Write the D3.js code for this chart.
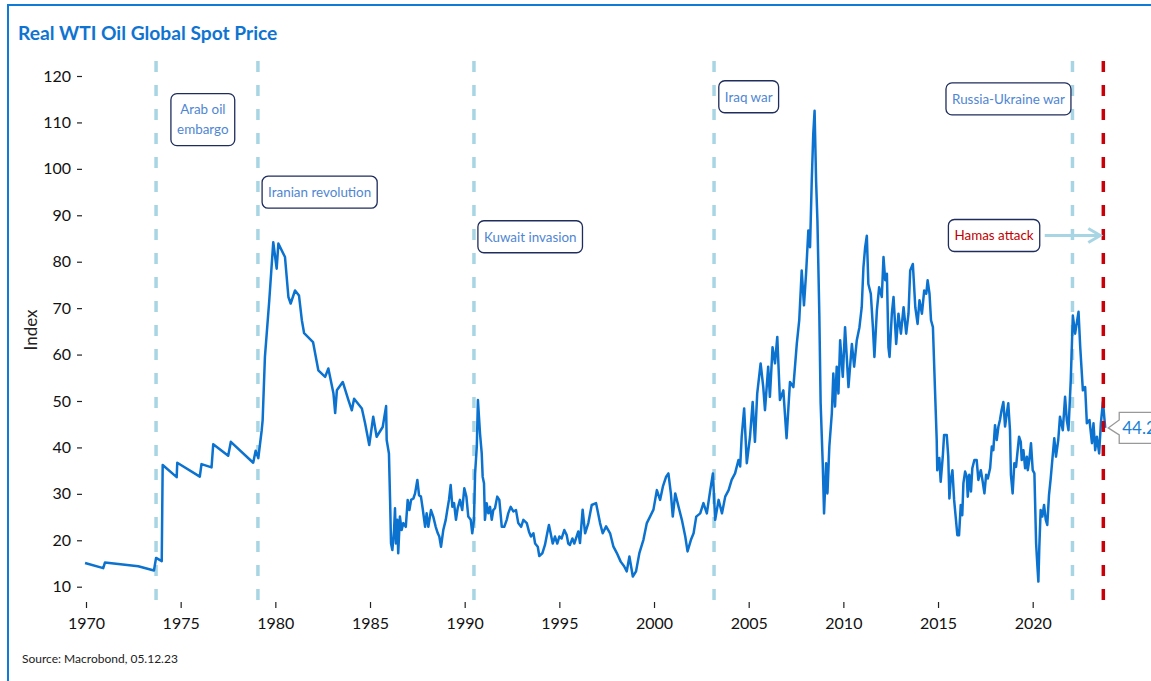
<!DOCTYPE html>
<html><head><meta charset="utf-8">
<script src="https://cdn.jsdelivr.net/npm/d3@7"></script>
<style>
body{margin:0;background:#fff;}
svg{display:block;font-family:Lato,"Open Sans",sans-serif;}
</style></head><body>
<svg id="c" width="1151" height="681"></svg>
<script>
// ---- data ----
const series = [
[1969.95,15.1],[1970.91,14.0],[1971.00,15.2],[1972.76,14.4],[1973.59,13.5],[1973.70,16.2],[1974.00,15.5],[1974.05,36.2],
[1974.79,33.6],[1974.82,36.7],[1976.01,33.7],[1976.10,36.4],[1976.63,35.7],[1976.72,40.7],[1977.51,38.2],[1977.65,41.2],
[1978.83,36.7],[1978.96,39.3],[1979.10,37.7],[1979.28,43.7],[1979.33,45.9],[1979.45,59.5],[1979.68,71.7],[1979.89,84.2],
[1980.07,78.5],[1980.16,83.9],[1980.51,81],[1980.69,72.4],[1980.81,71],[1981.04,73.8],[1981.25,72.7],[1981.40,67.4],
[1981.52,64.6],[1981.99,62.7],[1982.27,56.6],[1982.63,55.2],[1982.80,57],[1983.07,51.6],[1983.16,47.4],[1983.25,52.3],
[1983.56,54.1],[1983.86,50.2],[1984.04,48],[1984.16,50.5],[1984.57,48.4],[1984.74,45.2],[1984.96,40.5],[1985.17,46.6],
[1985.35,42.3],[1985.67,44.4],[1985.85,48.9],[1985.88,41.6],[1986.00,38.7],[1986.06,28.7],[1986.11,19.3],[1986.18,17.9],
[1986.27,22.2],[1986.32,26.9],[1986.37,19.3],[1986.44,24.4],[1986.49,17.2],[1986.58,25.1],[1986.67,22.2],[1986.76,23.7],
[1986.89,22.9],[1986.99,28.7],[1987.08,26.5],[1987.17,28.7],[1987.29,29],[1987.38,30.1],[1987.50,33],[1987.59,29.7],
[1987.69,29.4],[1987.78,26.9],[1987.91,22.9],[1987.99,25.8],[1988.08,22.9],[1988.22,26.5],[1988.34,25.1],[1988.47,22.9],
[1988.58,21.5],[1988.66,20.8],[1988.75,18.6],[1988.87,22.2],[1989.00,24.4],[1989.08,26.5],[1989.17,28.7],[1989.26,31.9],
[1989.35,27.2],[1989.44,28],[1989.54,24.4],[1989.63,26.9],[1989.75,28.7],[1989.87,26.5],[1989.98,31.2],[1990.09,29.4],
[1990.19,25.1],[1990.32,24.4],[1990.40,21.5],[1990.49,24.4],[1990.55,34.4],[1990.64,40.2],[1990.70,50.2],[1990.81,43],
[1990.90,38.7],[1990.95,33.7],[1991.02,32.3],[1991.07,24.4],[1991.16,28],[1991.25,25.8],[1991.34,27.2],[1991.43,24.4],
[1991.51,26.5],[1991.60,26.9],[1991.72,29.4],[1991.83,28.7],[1991.96,22.9],[1992.09,22.9],[1992.22,24.4],[1992.30,25.8],
[1992.43,27.2],[1992.57,26.2],[1992.71,26.5],[1992.83,23.7],[1992.98,22.9],[1993.10,24.4],[1993.28,23.7],[1993.40,21.8],
[1993.50,20.8],[1993.63,21.5],[1993.72,19.3],[1993.86,18.6],[1993.94,16.6],[1994.10,17.2],[1994.24,19],[1994.36,21.5],
[1994.45,23.3],[1994.54,21.5],[1994.65,19.3],[1994.77,20.8],[1994.89,19.3],[1995.00,20.8],[1995.12,20.4],[1995.26,22.2],
[1995.39,21.1],[1995.47,19.3],[1995.56,19],[1995.69,20.4],[1995.79,19.3],[1996.00,21.9],[1996.09,19.4],[1996.23,26.6],
[1996.36,21.5],[1996.53,23.7],[1996.71,27.6],
[1996.94,28],[1997.15,23.7],[1997.29,21.5],[1997.47,23],[1997.68,21.5],[1997.85,18.7],[1998.03,17.3],[1998.24,15.4],
[1998.42,14.4],[1998.56,13.3],[1998.70,16.5],[1998.88,12.2],[1999.05,13.3],[1999.23,17.3],[1999.44,20.1],[1999.62,23.7],
[1999.79,25.1],[1999.97,26.6],[2000.15,30.8],[2000.32,28.7],[2000.47,31.6],[2000.64,33.7],[2000.76,34.4],[2000.89,30.1],
[2000.99,25.1],[2001.12,30.1],[2001.29,27.3],[2001.47,24.4],[2001.65,20.8],[2001.77,17.6],[2001.95,20.1],[2002.09,21.5],
[2002.23,25.1],[2002.44,25.8],[2002.61,28],[2002.79,25.8],[2002.97,30.8],[2003.11,34.4],[2003.23,24.4],[2003.41,28.7],
[2003.59,25.8],[2003.76,29.4],[2003.94,30.8],[2004.10,33],[2004.28,34.4],[2004.46,37.3],[2004.55,35.9],[2004.63,42.3],
[2004.76,48.4],[2004.90,36.6],[2005.07,42.3],[2005.21,49.8],[2005.33,41.2],[2005.45,51.6],[2005.63,58.1],[2005.77,53],
[2005.86,48],[2006.03,57.4],[2006.12,50.9],[2006.26,61.6],[2006.39,58.1],[2006.51,63.8],[2006.65,50.2],[2006.83,52.3],
[2007.00,42],[2007.18,54.1],[2007.36,53],[2007.54,62.3],[2007.67,67.4],[2007.80,78.1],[2007.92,70.6],[2008.03,77.4],
[2008.15,86.7],[2008.24,83.1],[2008.33,97.4],[2008.41,107.5],[2008.48,112.5],[2008.56,97.4],[2008.63,88.9],[2008.73,68.8],
[2008.80,49.5],[2008.91,36.6],[2008.98,25.8],[2009.09,36.6],[2009.16,30.1],[2009.26,40.2],[2009.39,47.3],[2009.47,55.9],
[2009.56,48.8],[2009.65,57.4],[2009.74,51.6],[2009.83,63.1],[2009.97,55.2],[2010.09,65.9],[2010.27,53],[2010.45,62.3],
[2010.57,57.4],[2010.71,63.1],[2010.85,65.9],[2010.97,70.2],[2011.06,78.8],[2011.15,83.1],[2011.24,85.6],[2011.32,75.2],
[2011.45,73.1],[2011.56,65.9],[2011.64,59.5],[2011.77,69.5],[2011.89,74.5],[2012.03,72.4],[2012.12,81],[2012.21,76],
[2012.30,77.4],[2012.38,61.6],[2012.44,59.5],[2012.56,68.8],[2012.65,72.4],[2012.79,62.3],[2012.91,68.8],[2013.04,64.5],
[2013.18,70.2],[2013.32,64.5],[2013.44,68.8],[2013.53,78.1],[2013.67,79.5],[2013.80,70.2],[2013.92,66.6],[2014.02,71.7],
[2014.15,68.8],[2014.27,73.8],[2014.38,73.1],[2014.45,76],[2014.55,73.1],[2014.63,67.4],[2014.73,65.9],[2014.84,52.4],
[2014.93,41.6],[2014.96,35.1],[2015.07,37.7],[2015.14,32.6],[2015.25,38],[2015.32,42.7],[2015.46,42.7],[2015.54,38],
[2015.60,29],[2015.67,33],[2015.76,35.1],[2015.85,28.7],[2015.94,24.7],[2016.02,21.1],[2016.11,21.1],[2016.20,27.6],
[2016.28,25.4],[2016.34,32.3],[2016.43,34.8],[2016.52,33.7],[2016.57,29.4],[2016.65,34.1],[2016.74,30.5],[2016.81,35.5],
[2016.92,37.3],[2017.04,37.3],[2017.13,33],[2017.26,35.1],[2017.36,32.6],[2017.45,30.1],[2017.54,34.1],[2017.63,33.3],
[2017.75,35.5],[2017.84,40.2],[2017.92,39.4],[2018.01,44.8],[2018.10,41.6],[2018.19,44.5],[2018.27,45.9],[2018.36,48.1],
[2018.45,49.8],[2018.54,44.5],[2018.63,47.3],[2018.71,49.5],[2018.80,43.7],[2018.85,34.1],[2018.94,30.1],[2019.03,36.6],
[2019.12,35.8],[2019.19,38.7],[2019.28,42.3],[2019.37,41.2],[2019.42,37.3],[2019.51,39.4],[2019.60,35.5],[2019.69,38],
[2019.74,35.1],[2019.82,37.3],[2019.91,40.9],[2020.00,35.1],[2020.09,34.4],[2020.18,19.3],[2020.25,14.3],[2020.30,11.1],
[2020.35,18.6],[2020.42,26.5],[2020.51,25.1],[2020.60,27.6],[2020.69,24.4],[2020.77,23.3],[2020.86,29.7],[2020.95,33.3],
[2021.06,38.4],[2021.14,42],[2021.23,38],[2021.35,41.6],[2021.44,46.6],[2021.59,43.7],[2021.71,50.9],[2021.80,45.9],
[2021.89,43.7],[2022.01,54.5],[2022.12,68.4],[2022.24,64.5],[2022.42,69.2],[2022.51,61.6],[2022.65,52.3],[2022.77,53],
[2022.86,45.2],[2023.00,45.9],[2023.13,40.9],[2023.21,45.2],[2023.30,39.4],[2023.39,42.3],[2023.51,38.7],[2023.60,45.2],
[2023.71,49.8],[2023.83,44.2]
];
const xTicks = [1970,1975,1980,1985,1990,1995,2000,2005,2010,2015,2020];
const yTicks = [10,20,30,40,50,60,70,80,90,100,110,120];
const eventDates = [1973.70, 1979.08, 1990.49, 2003.17, 2022.10];
const hamasDate = 2023.73;
const annLabels = [["Arab oil","embargo"],["Iranian revolution"],["Kuwait invasion"],["Iraq war"],["Russia-Ukraine war"],["Hamas attack"]];
const annYear = [1976.17, 1982.34, 1993.46, 2005.00, 2018.72, 2017.96];
const annLevel = [110.6, 94.97, 85.38, 115.53, 115.07, 85.64];
const annRed = [false,false,false,false,false,true];
const lastValue = 44.2;
const titleText = "Real WTI Oil Global Spot Price";
const sourceText = "Source: Macrobond, 05.12.23";

// ---- drawing ----
const svg = d3.select("#c");
const x = d3.scaleLinear().domain([1970, 2020]).range([86, 1032.7]);
const y = d3.scaleLinear().domain([10, 120]).range([586.7, 76]);

// frame
svg.append("path").attr("d","M8,681V5H1151").attr("fill","none").attr("stroke","#0f7bd6").attr("stroke-width",2);

svg.append("text").attr("x",18).attr("y",40).text(titleText)
  .attr("font-weight","bold").attr("font-size",19.2).attr("fill","#0f74d1");

// axes
const ya = svg.append("g").attr("transform","translate(82,0)")
  .call(d3.axisLeft(y).tickValues(yTicks).tickSize(5).tickPadding(6));
ya.select(".domain").remove();
ya.selectAll(".tick line").attr("stroke","#222").attr("stroke-width",1.2);
ya.selectAll(".tick text").attr("font-size",16).attr("fill","#111").attr("font-family","Lato");

const xa = svg.append("g").attr("transform","translate(0,602)")
  .call(d3.axisBottom(x).tickValues(xTicks).tickFormat(d3.format("d")).tickSize(6).tickPadding(10));
xa.select(".domain").remove();
xa.selectAll(".tick line").attr("stroke","#222").attr("stroke-width",1.2);
xa.selectAll(".tick text").attr("font-size",16).attr("fill","#111").attr("font-family","Lato");

svg.append("text").attr("transform","translate(37,330) rotate(-90)").attr("text-anchor","middle")
  .attr("font-size",17).attr("fill","#222").text("Index");

svg.append("text").attr("x",22).attr("y",663).attr("font-size",12).attr("fill","#222").text(sourceText);

// event lines
svg.selectAll(".ev").data(eventDates).enter().append("line")
  .attr("x1",d=>x(d)).attr("x2",d=>x(d)).attr("y1",61).attr("y2",600)
  .attr("stroke","#a8d5e3").attr("stroke-width",3.5).attr("stroke-dasharray","11,13");

// series
svg.append("path").datum(series)
  .attr("d", d3.line().x(d=>x(d[0])).y(d=>y(d[1])))
  .attr("fill","none").attr("stroke","#0b72cf").attr("stroke-width",2.5).attr("stroke-linejoin","round");

svg.append("line").attr("x1",x(hamasDate)).attr("x2",x(hamasDate)).attr("y1",61).attr("y2",600)
  .attr("stroke","#c8000a").attr("stroke-width",3.5).attr("stroke-dasharray","11,13");

// annotations
const boxes = [];
annLabels.forEach((lines,i)=>{
  const g = svg.append("g").attr("transform",`translate(${x(annYear[i])},${y(annLevel[i])})`);
  const n = lines.length;
  const rect = g.append("rect");
  const t = g.append("text").attr("text-anchor","middle").attr("font-size",13.4)
    .attr("fill", annRed[i] ? "#c00000" : "#4f86d3");
  lines.forEach((l,k)=>{
    t.append("tspan").attr("x",0).attr("y",(k-(n-1)/2)*20).attr("dy","0.36em").text(l);
  });
  const bb = t.node().getBBox();
  const w = bb.width + 12, h = 12 + 20*n;
  rect.attr("x",-w/2).attr("y",-h/2).attr("width",w).attr("height",h).attr("rx",6)
    .attr("fill","#fff").attr("stroke","#1f2d5c").attr("stroke-width",1.3);
  boxes.push({cx:x(annYear[i]), cy:y(annLevel[i]), w});
});

// arrow from Hamas box to red line
const hb = boxes[5];
const ax0 = hb.cx + hb.w/2 + 5, ax1 = x(hamasDate) - 3, ay = hb.cy;
svg.append("line").attr("x1",ax0).attr("x2",ax1).attr("y1",ay).attr("y2",ay)
  .attr("stroke","#a8d5e3").attr("stroke-width",3);
svg.append("path").attr("d",`M${ax1-12},${ay-7}L${ax1},${ay}L${ax1-12},${ay+7}`)
  .attr("fill","none").attr("stroke","#a8d5e3").attr("stroke-width",3);

// last value label (clipped by the page edge, as in the reference)
const last = series[series.length-1];
const tx = x(last[0]) + 3, ty = y(last[1]);
svg.append("path").attr("d",`M${tx},${ty}L${tx+11},${ty-8}V${ty-15.5}H1160V${ty+15.5}H${tx+11}V${ty+7}Z`)
  .attr("fill","#fff").attr("stroke","#999").attr("stroke-width",1.3);
svg.append("text").attr("x",tx+14).attr("y",ty+6).attr("font-size",17).attr("fill","#1a7fd6").text(lastValue.toFixed(1));
</script>
</body></html>
